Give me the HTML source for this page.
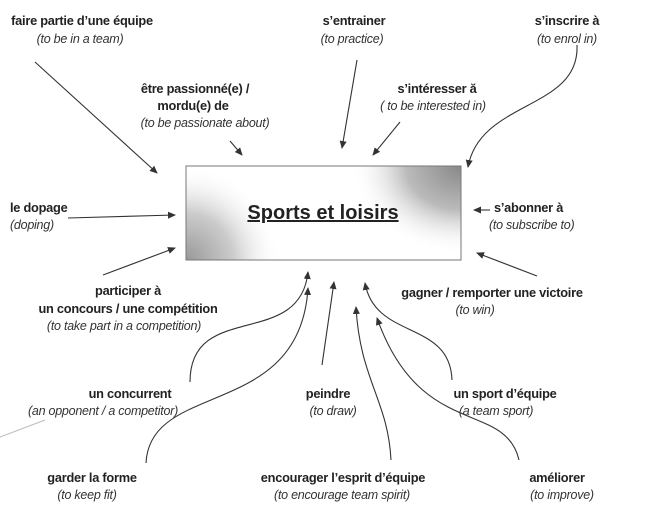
<!DOCTYPE html>
<html><head><meta charset="utf-8"><style>
html,body{margin:0;padding:0;background:#fff;width:645px;height:524px;overflow:hidden}
svg text{font-family:"Liberation Sans",sans-serif;font-size:12.8px;letter-spacing:-0.25px;fill:#222}
.b{font-weight:bold}
.i{font-style:italic;font-size:12.5px;fill:#333}
</style></head><body>
<svg width="645" height="524" viewBox="0 0 645 524" xmlns="http://www.w3.org/2000/svg">
<defs>
<marker id="a" markerWidth="8" markerHeight="8" refX="7" refY="4" orient="auto" markerUnits="userSpaceOnUse"><path d="M0,0.5 L8,4 L0,7.5z" fill="#333"/></marker>
<radialGradient id="tr" cx="461" cy="166" r="110" gradientUnits="userSpaceOnUse" gradientTransform="translate(461 166) scale(1 0.8) translate(-461 -166)"><stop offset="0" stop-color="#888"/><stop offset="0.5" stop-color="#bbb"/><stop offset="1" stop-color="#fff" stop-opacity="0"/></radialGradient>
<radialGradient id="bl" cx="186" cy="260" r="95" gradientUnits="userSpaceOnUse"><stop offset="0" stop-color="#999"/><stop offset="0.5" stop-color="#ccc"/><stop offset="1" stop-color="#fff" stop-opacity="0"/></radialGradient>
</defs>
<rect x="186" y="166" width="275" height="94" fill="#fff"/>
<rect x="186" y="166" width="275" height="94" fill="url(#tr)"/>
<rect x="186" y="166" width="275" height="94" fill="url(#bl)"/>
<rect x="186" y="166" width="275" height="94" fill="none" stroke="#777" stroke-width="1"/>
<text x="323" y="219" text-anchor="middle" class="b" style="font-size:20px;letter-spacing:0;text-decoration:underline">Sports et loisirs</text>

<g stroke="#333" stroke-width="1.1" fill="none" marker-end="url(#a)">
<path d="M35,62 L157,173"/>
<path d="M230,141 L242,155"/>
<path d="M357,60 L342,148"/>
<path d="M400,122 L373,155"/>
<path d="M577,45 C580,110 480,100 468,167"/>
<path d="M68,218 L175,215"/>
<path d="M103,275 L175,248"/>
<path d="M490,210 L474,210"/>
<path d="M537,276 L477,253"/>
<path d="M190,382 C190,300 300,350 308,272"/>
<path d="M146,463 C150,380 300,420 308,288"/>
<path d="M322,365 L334,282"/>
<path d="M391,460 C388,400 360,380 356,307"/>
<path d="M519,460 C505,400 420,440 377,318"/>
<path d="M452,380 C450,320 375,340 365,283"/>
</g>
<path d="M0,437 L45,420" stroke="#bbb" stroke-width="1"/>

<text x="82" y="25" text-anchor="middle" class="b">faire partie d’une équipe</text>
<text x="80" y="43" text-anchor="middle" class="i">(to be in a team)</text>
<text x="354" y="25" text-anchor="middle" class="b">s’entrainer</text>
<text x="352" y="43" text-anchor="middle" class="i">(to practice)</text>
<text x="567" y="25" text-anchor="middle" class="b">s’inscrire à</text>
<text x="567" y="43" text-anchor="middle" class="i">(to enrol in)</text>
<text x="195" y="93" text-anchor="middle" class="b">être passionné(e) /</text>
<text x="193" y="110" text-anchor="middle" class="b">mordu(e)  de</text>
<text x="205" y="127" text-anchor="middle" class="i">(to be passionate about)</text>
<text x="437" y="93" text-anchor="middle" class="b">s’intéresser ă</text>
<text x="433" y="110" text-anchor="middle" class="i">( to be interested in)</text>
<text x="10" y="212" class="b">le dopage</text>
<text x="10" y="229" class="i">(doping)</text>
<text x="494" y="212" class="b">s’abonner à</text>
<text x="489" y="229" class="i">(to subscribe to)</text>
<text x="128" y="295" text-anchor="middle" class="b">participer à</text>
<text x="128" y="313" text-anchor="middle" class="b">un concours / une compétition</text>
<text x="124" y="330" text-anchor="middle" class="i">(to take part in a competition)</text>
<text x="492" y="297" text-anchor="middle" class="b">gagner / remporter une victoire</text>
<text x="475" y="314" text-anchor="middle" class="i">(to win)</text>
<text x="130" y="398" text-anchor="middle" class="b">un concurrent</text>
<text x="103" y="415" text-anchor="middle" class="i">(an opponent / a competitor)</text>
<text x="328" y="398" text-anchor="middle" class="b">peindre</text>
<text x="333" y="415" text-anchor="middle" class="i">(to draw)</text>
<text x="505" y="398" text-anchor="middle" class="b">un sport d’équipe</text>
<text x="496" y="415" text-anchor="middle" class="i">(a team sport)</text>
<text x="92" y="482" text-anchor="middle" class="b">garder la forme</text>
<text x="87" y="499" text-anchor="middle" class="i">(to keep fit)</text>
<text x="343" y="482" text-anchor="middle" class="b">encourager l’esprit d’équipe</text>
<text x="342" y="499" text-anchor="middle" class="i">(to encourage team spirit)</text>
<text x="557" y="482" text-anchor="middle" class="b">améliorer</text>
<text x="562" y="499" text-anchor="middle" class="i">(to improve)</text>
</svg>
</body></html>
